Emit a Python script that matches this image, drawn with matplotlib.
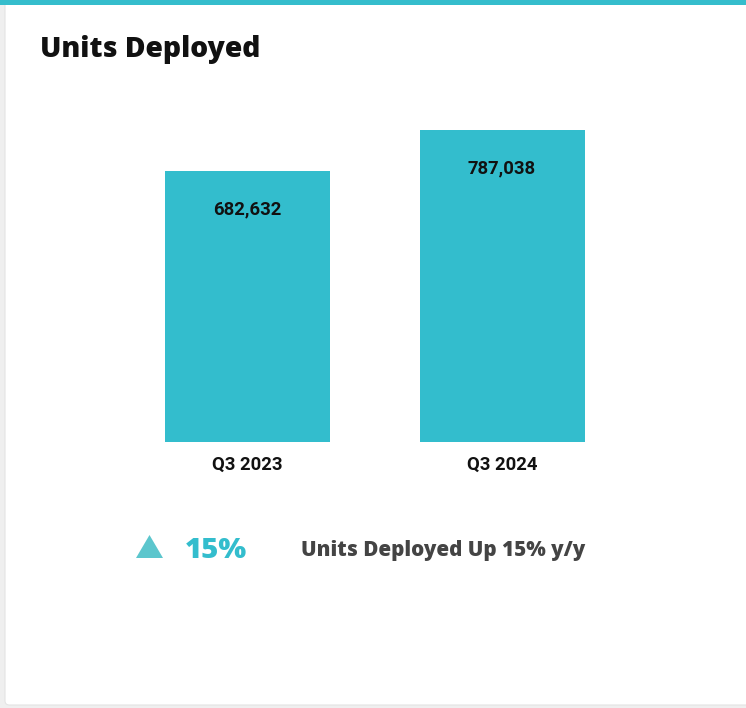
import matplotlib
matplotlib.use("Agg")
from matplotlib import pyplot as plt
from matplotlib.patches import FancyBboxPatch, Rectangle, Polygon

# data
quarters = ["Q3 2023", "Q3 2024"]
units = [682632, 787038]
growth_pct = 15
headline = "Units Deployed Up 15% y/y"

W, H = 746, 708
teal = "#33bdcd"

fig = plt.figure(figsize=(W / 100, H / 100), dpi=100, facecolor="#efefef")

def fx(px):
    return px / W

def fy(py):
    return 1 - py / H

# card background + top stripe (behind the axes)
card = FancyBboxPatch((fx(5), fy(705)), fx(760) - fx(5), fy(0) - fy(705),
                      boxstyle="round,pad=0,rounding_size=0.006",
                      transform=fig.transFigure, facecolor="white",
                      edgecolor="#e4e4e4", linewidth=0.8, zorder=-2)
fig.patches.append(card)
fig.patches.append(Rectangle((0, fy(5)), 1, fy(0) - fy(5), transform=fig.transFigure,
                             facecolor="#35bdcc", edgecolor="none", zorder=-1))

fig.text(fx(40), fy(57), "Units Deployed", fontsize=20.3, fontweight="heavy",
         family="Open Sans", color="#111111", va="baseline", ha="left")

# bar axes: value 0 at y=442px, bar centres at 247.5px and 502px
ax_l, ax_r, ax_t, ax_b = 120, 630, 100, 442
ax = fig.add_axes([fx(ax_l), fy(ax_b), fx(ax_r) - fx(ax_l), fy(ax_t) - fy(ax_b)])
ax.set_facecolor("none")
spacing = 254.5
ax.set_xlim(-(247.5 - ax_l) / spacing, (ax_r - 247.5) / spacing)
scale = 312 / units[1]
ax.set_ylim(0, (ax_b - ax_t) / scale)

pos = list(range(len(quarters)))
bars = ax.bar(pos, units, width=165 / spacing, color=teal)
for x, v in zip(pos, units):
    ax.annotate(f"{v:,}", (x, v), xytext=(0, -27.5), textcoords="offset points",
                ha="center", va="center", fontsize=13.3, fontweight="bold",
                family="Roboto", color="#111111")

ax.set_xticks(pos)
ax.set_xticklabels(quarters, fontsize=13.3, fontweight="bold", family="Roboto",
                   color="#111111")
ax.tick_params(axis="x", length=0, pad=10)
ax.set_yticks([])
for s in ax.spines.values():
    s.set_visible(False)

# growth row
tri = Polygon([(fx(136), fy(558)), (fx(163), fy(558)), (fx(149.5), fy(535))],
              closed=True, transform=fig.transFigure, facecolor="#5cc6cd",
              edgecolor="none")
fig.patches.append(tri)
fig.text(fx(185), fy(558), f"{growth_pct}%", fontsize=21.2, fontweight="heavy",
         family="Open Sans", color=teal, va="baseline", ha="left")
fig.text(fx(301), fy(556), headline, fontsize=14.9, fontweight="heavy",
         family="Open Sans", color="#444444", va="baseline", ha="left")

fig.savefig("out.png", dpi=100, facecolor=fig.get_facecolor())
